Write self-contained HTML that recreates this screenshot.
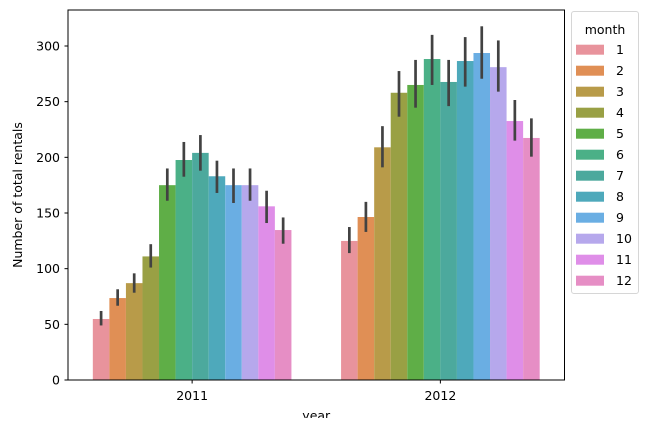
<!DOCTYPE html>
<html><head><meta charset="utf-8"><style>
html,body{margin:0;padding:0;background:#fff;overflow:hidden;}
svg text{font-family:"DejaVu Sans","Liberation Sans",sans-serif;fill:#000;}
</style></head><body>
<svg id="chart" width="654" height="418" viewBox="0 0 654 418" xmlns="http://www.w3.org/2000/svg">
<g id="bars"></g>
<g id="errs"></g>
<g id="axes"></g>
<g id="legend"></g>
</svg>
<script>
const years = ["2011","2012"];
const months = ["1","2","3","4","5","6","7","8","9","10","11","12"];
const colors = ["#e8939c","#e08f55","#b89b49","#99a044","#5fae47","#4bb087","#4ca99d","#4ea9bb","#6aaee3","#b6a8ec","#df8ee8","#e68ec5"];
const vals2011 = [54.8,73.6,87,111,175,197.6,204,183,175,175,156,134.7];
const vals2012 = [124.9,146.4,209,258,265,288.3,267.7,286.5,293.7,281,232.6,217.4];
const lo2011 = [49,66.7,78.4,101,161,182.6,188,168,159,161,141,122.4];
const hi2011 = [62,81.5,95.8,122,190,213.8,220,197,190,190,170,146];
const lo2012 = [114,133,191,236.5,244.6,265,246,263.5,270.6,259,215,200.6];
const hi2012 = [137.4,160,228,277.5,287.5,310,287.5,308,317.7,305,251.5,235];
const yTicks = [0,50,100,150,200,250,300];

const NS="http://www.w3.org/2000/svg";
const L=68,R=564.5,T=10,B=380;
const yScale=v=>B-v*(334/300);
const catW=(R-L)/2;
const xCenter=i=>L+catW*(i+0.5);
const barW=catW*0.8/months.length;
function mk(tag,attrs,parent){const e=document.createElementNS(NS,tag);for(const k in attrs)e.setAttribute(k,attrs[k]);parent.appendChild(e);return e;}
const gb=document.getElementById('bars'),ge=document.getElementById('errs'),ga=document.getElementById('axes'),gl=document.getElementById('legend');
const series=[vals2011,vals2012],los=[lo2011,lo2012],his=[hi2011,hi2012];
years.forEach((y,yi)=>{
  months.forEach((m,mi)=>{
    const x=xCenter(yi)-catW*0.4+mi*barW;
    const r=mk('rect',{x:x,y:yScale(series[yi][mi]),width:barW,height:B-yScale(series[yi][mi]),fill:colors[mi]},gb);
    
    
    const l=mk('line',{x1:x+barW/2,x2:x+barW/2,y1:yScale(los[yi][mi]),y2:yScale(his[yi][mi]),stroke:'#424242','stroke-width':2.7},ge);
    
    
  });
});
const fr=mk('rect',{x:L,y:T,width:R-L,height:B-T,fill:'none',stroke:'#000','stroke-width':1},ga);


yTicks.forEach(v=>{
  const yy=yScale(v);
  mk('line',{x1:L-3.5,x2:L,y1:yy,y2:yy,stroke:'#000'},ga);
  const t=mk('text',{x:L-8,y:yy+4.5,'text-anchor':'end','font-size':12.5},ga);
  t.textContent=v;
  
  
});
years.forEach((y,yi)=>{
  const xx=xCenter(yi);
  mk('line',{x1:xx,x2:xx,y1:B,y2:B+3.5,stroke:'#000'},ga);
  const t=mk('text',{x:xx,y:B+20,'text-anchor':'middle','font-size':12.5},ga);
  t.textContent=y;
  
  
});
const xt=mk('text',{x:(L+R)/2,y:B+40,'text-anchor':'middle','font-size':12.5},ga);
xt.textContent='year';


const yt=mk('text',{x:0,y:0,'text-anchor':'middle','font-size':12.5,transform:'translate(22,'+((T+B)/2)+') rotate(-90)'},ga);
yt.textContent='Number of total rentals';


const lb=mk('rect',{x:571.5,y:11.5,width:67,height:282,rx:2.5,fill:'#fff',stroke:'#d6d6d6'},gl);


const lt=mk('text',{x:605,y:34,'text-anchor':'middle','font-size':12.5},gl);
lt.textContent='month';


months.forEach((m,mi)=>{
  const cy=49.7+mi*21;
  const p=mk('rect',{x:576,y:cy-5,width:28,height:10,fill:colors[mi]},gl);
  
  
  const t=mk('text',{x:616,y:cy+4.5,'font-size':12.5},gl);
  t.textContent=m;
  
  
});
</script>
</body></html>
